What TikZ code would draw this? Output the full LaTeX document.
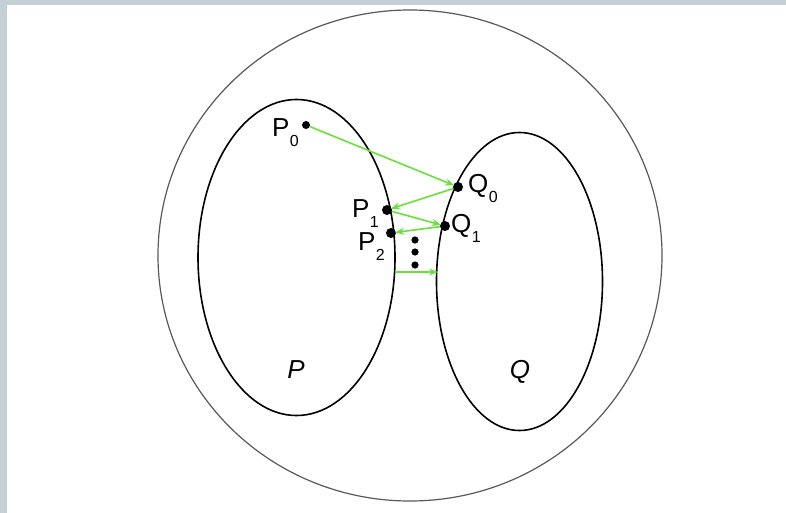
\documentclass[tikz,border=0pt]{standalone}
\usepackage{fontspec}
\setmainfont{Liberation Sans}
\usetikzlibrary{arrows.meta}
\definecolor{framegray}{RGB}{197,207,214}
\definecolor{flowgreen}{RGB}{104,226,56}
\newcommand{\subidx}[1]{\kern0.5pt\raisebox{-10pt}{\fontsize{16}{16}\selectfont #1}}
\begin{document}
\begin{tikzpicture}[x=1pt,y=-1pt,font=\fontsize{26}{30}\selectfont,
  setline/.style={black,line width=1.6pt},
  ring/.style={black!65,line width=1.2pt},
  dot/.style={circle,fill=black,inner sep=0pt,minimum size=#1},
  dot/.default=10,
  flow/.style={flowgreen,line width=1.6pt,-{Stealth[length=9pt,width=7pt]},shorten >=-1pt},
  lbl/.style={inner sep=0pt}]
  \useasboundingbox (0,0) rectangle (786,513);
  \fill[framegray] (0,0) rectangle (786,513);
  \fill[white] (7,5) rectangle (786,513);
  % sets
  \draw[ring] (410,255.5) ellipse [x radius=252,y radius=245.5];
  \draw[setline] (296.5,257.5) ellipse [x radius=98.5,y radius=158];
  \draw[setline] (519.5,281.5) ellipse [x radius=83,y radius=149];
  \node[lbl,anchor=base] (setp) at (296,378) {\itshape P};
  \node[lbl,anchor=base] (setq) at (520,378) {\itshape Q};
  % points
  \node[dot=8] (p0) at (306,125) {};
  \node[dot] (q0) at (458,187) {};
  \node[dot] (p1) at (387,210) {};
  \node[dot] (q1) at (445,226) {};
  \node[dot] (p2) at (391,233) {};
  \node[lbl,anchor=base east] (lp0) at (299,137) {P\subidx{0}};
  \node[lbl,anchor=base west] (lq0) at (468,192) {Q\subidx{0}};
  \node[lbl,anchor=base east] (lp1) at (379,217) {P\subidx{1}};
  \node[lbl,anchor=base west] (lq1) at (451,232) {Q\subidx{1}};
  \node[lbl,anchor=base east] (lp2) at (385,250) {P\subidx{2}};
  % vertical dots
  \foreach \y in {240,252,265}
    \fill (415,\y) circle [radius=3.6];
  \coordinate (e1) at (395,272);
  \coordinate (e2) at (437,272);
  % steps between the sets
  \draw[flow] (p0) -- (q0);
  \draw[flow] (q0) -- (p1);
  \draw[flow] (p1) -- (q1);
  \draw[flow] (q1) -- (p2);
  \draw[flow] (e1) -- (e2);
\end{tikzpicture}
\end{document}
